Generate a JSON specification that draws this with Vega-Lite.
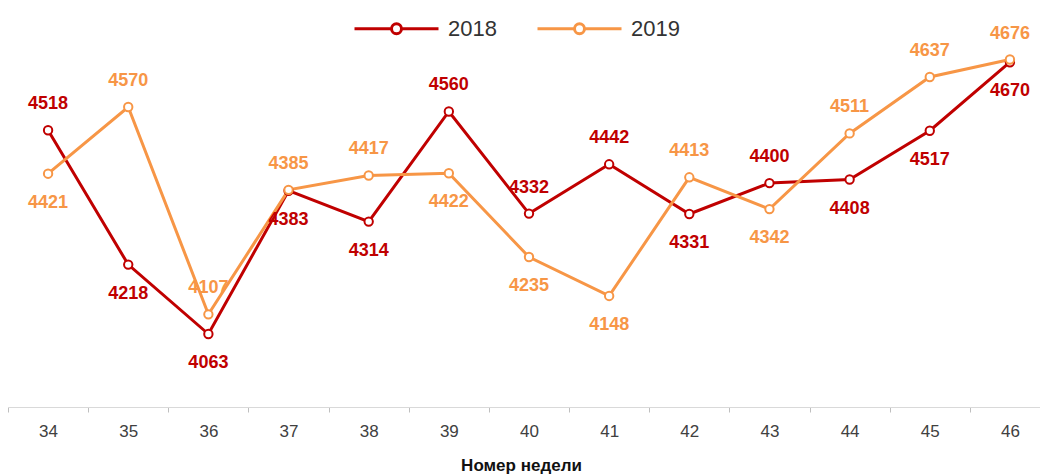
{
  "$schema": "https://vega.github.io/schema/vega-lite/v6.json",
  "width": 1032,
  "height": 403,
  "autosize": "none",
  "padding": {"left": 8, "top": 4, "right": 0, "bottom": 68},
  "background": "white",
  "config": {
    "view": {"stroke": null},
    "font": "Liberation Sans",
    "axis": {"grid": false}
  },
  "data": {
    "values": [
      {"week": "34", "2018": 4518, "2019": 4421},
      {"week": "35", "2018": 4218, "2019": 4570},
      {"week": "36", "2018": 4063, "2019": 4107},
      {"week": "37", "2018": 4383, "2019": 4385},
      {"week": "38", "2018": 4314, "2019": 4417},
      {"week": "39", "2018": 4560, "2019": 4422},
      {"week": "40", "2018": 4332, "2019": 4235},
      {"week": "41", "2018": 4442, "2019": 4148},
      {"week": "42", "2018": 4331, "2019": 4413},
      {"week": "43", "2018": 4400, "2019": 4342},
      {"week": "44", "2018": 4408, "2019": 4511},
      {"week": "45", "2018": 4517, "2019": 4637},
      {"week": "46", "2018": 4670, "2019": 4676}
    ]
  },
  "encoding": {
    "x": {
      "field": "week",
      "type": "ordinal",
      "sort": null,
      "scale": {"type": "band", "paddingInner": 0, "paddingOuter": 0, "range": [0, 1042]},
      "axis": {
        "title": "Номер недели",
        "labelAngle": 0,
        "tickBand": "extent",
        "domainColor": "#d9d9d9",
        "domainWidth": 1,
        "tickColor": "#bfbfbf",
        "tickSize": 5,
        "labelFontSize": 17,
        "labelColor": "#404040",
        "labelPadding": 11,
        "titleFontSize": 17,
        "titleFontWeight": "bold",
        "titleColor": "#111111",
        "titlePadding": 18,
        "titleX": 513
      }
    }
  },
  "layer": [
    {
      "transform": [{"fold": ["2018", "2019"], "as": ["series", "value"]}],
      "mark": {"type": "line", "strokeWidth": 3},
      "encoding": {
        "y": {"field": "value", "type": "quantitative", "scale": {"domain": [3900, 4800], "zero": false, "nice": false}, "axis": null},
        "color": {
          "field": "series",
          "type": "nominal",
          "scale": {"domain": ["2018", "2019"], "range": ["#c00000", "#f79646"]},
          "legend": {
            "orient": "none",
            "legendX": 377,
            "legendY": 13,
            "direction": "horizontal",
            "title": null,
            "padding": 0,
            "symbolType": "M-4.2,0H-0.5M0.5,0H4.2M-0.5,0A0.5,0.5,0,1,1,0.5,0A0.5,0.5,0,1,1,-0.5,0Z",
            "symbolSize": 400,
            "symbolStrokeWidth": 3,
            "labelFontSize": 22,
            "labelColor": "#333333",
            "labelOffset": 40,
            "columnPadding": 34,
            "encode": {"symbols": {"update": {"fill": {"value": "white"}, "opacity": {"value": 1}}}}
          }
        }
      }
    },
    {
      "transform": [{"fold": ["2018", "2019"], "as": ["series", "value"]}],
      "mark": {"type": "point", "filled": true, "fill": "white", "fillOpacity": 1, "opacity": 1, "size": 70, "strokeWidth": 2},
      "encoding": {
        "y": {"field": "value", "type": "quantitative"},
        "stroke": {
          "field": "series",
          "type": "nominal",
          "scale": {"domain": ["2018", "2019"], "range": ["#c00000", "#f79646"]},
          "legend": null
        }
      }
    },
    {
      "transform": [{"filter": "datum['2018'] > datum['2019']"}],
      "mark": {"type": "text", "dy": -26, "fontSize": 18, "fontWeight": "bold", "color": "#c00000", "baseline": "middle"},
      "encoding": {"y": {"field": "2018", "type": "quantitative"}, "text": {"field": "2018", "type": "quantitative"}}
    },
    {
      "transform": [{"filter": "datum['2018'] <= datum['2019']"}],
      "mark": {"type": "text", "dy": 29, "fontSize": 18, "fontWeight": "bold", "color": "#c00000", "baseline": "middle"},
      "encoding": {"y": {"field": "2018", "type": "quantitative"}, "text": {"field": "2018", "type": "quantitative"}}
    },
    {
      "transform": [{"filter": "datum['2019'] > datum['2018']"}],
      "mark": {"type": "text", "dy": -26, "fontSize": 18, "fontWeight": "bold", "color": "#f79646", "baseline": "middle"},
      "encoding": {"y": {"field": "2019", "type": "quantitative"}, "text": {"field": "2019", "type": "quantitative"}}
    },
    {
      "transform": [{"filter": "datum['2019'] <= datum['2018']"}],
      "mark": {"type": "text", "dy": 29, "fontSize": 18, "fontWeight": "bold", "color": "#f79646", "baseline": "middle"},
      "encoding": {"y": {"field": "2019", "type": "quantitative"}, "text": {"field": "2019", "type": "quantitative"}}
    }
  ]
}
